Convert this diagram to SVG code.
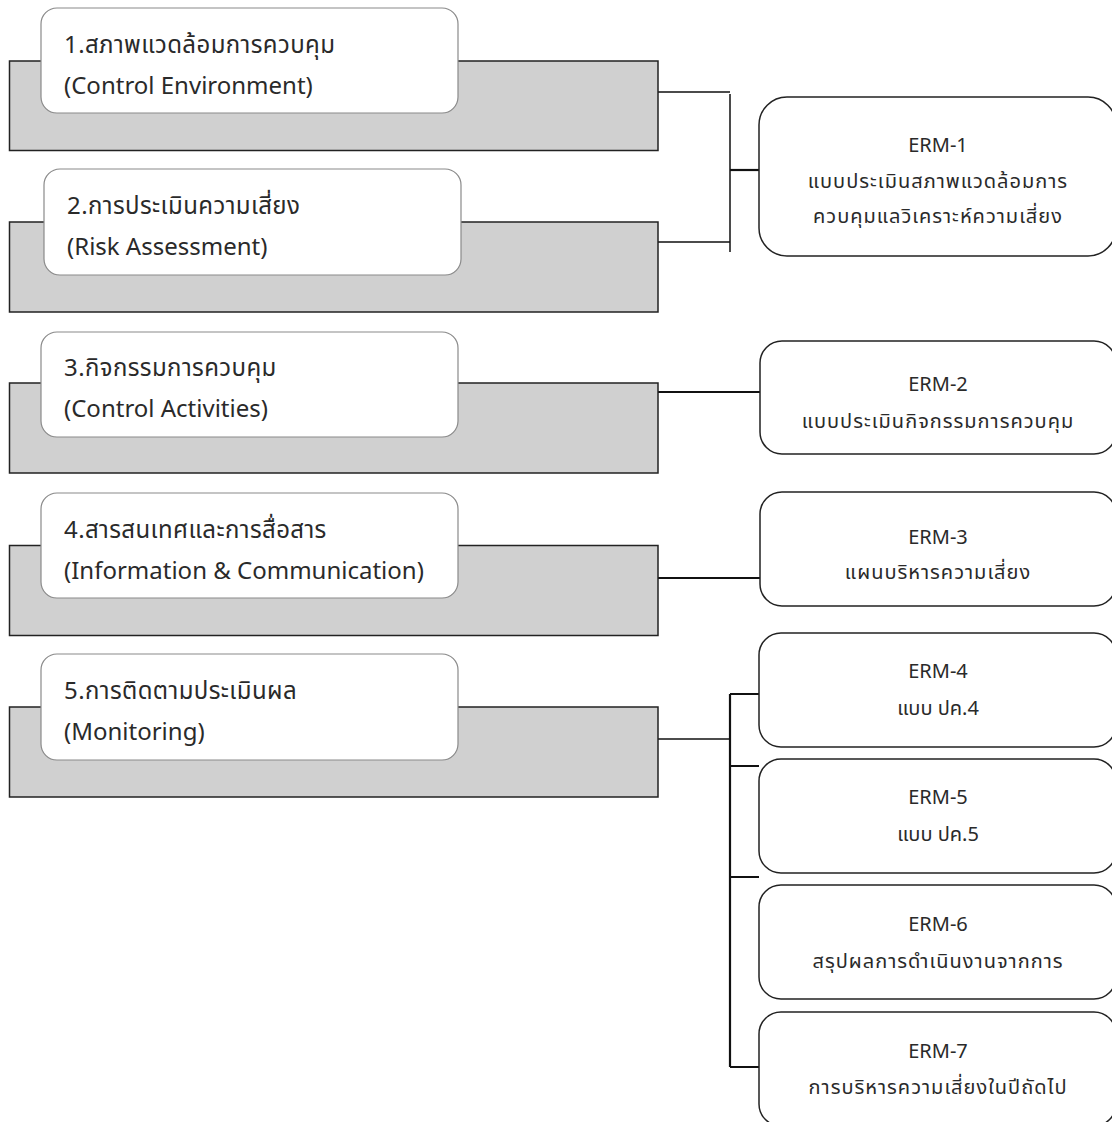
<svg xmlns="http://www.w3.org/2000/svg" width="1112" height="1122" viewBox="0 0 1112 1122">
<style>
.bg{fill:#d0d0d0;stroke:#222;stroke-width:1.5}
.wb{fill:#fff;stroke:#8a8a8a;stroke-width:1.2}
.rb{fill:#fff;stroke:#222;stroke-width:1.5}
.lt{font-family:"Noto Sans Thai","Noto Sans",sans-serif;font-size:24px;fill:#2a2a2a}
.lth{letter-spacing:0.4px}
.rt{font-family:"Noto Sans Thai","Noto Sans",sans-serif;font-size:20px;fill:#2a2a2a;text-anchor:middle}
.th{letter-spacing:1px}
.c{stroke:#111;stroke-width:1.5;fill:none}
.c2{stroke:#111;stroke-width:2.2;fill:none}
</style>
<rect width="1112" height="1122" fill="#fff"/>
<g id="connectors">
<path class="c" d="M658 92H730M658 242H730M730 94V252"/>
<path class="c2" d="M730 170H759"/>
<path class="c2" d="M658 392H760"/>
<path class="c2" d="M658 578H760"/>
<path class="c" d="M658 739H730"/>
<path class="c2" d="M730 694V1067M730 694H759M730 766H759M730 877H759M730 1067H759"/>
</g>
<g id="n1"><rect class="bg" x="9.5" y="61" width="648.5" height="89.5"/><rect class="wb" x="41" y="8" width="417" height="105" rx="16"/><text class="lt lth" x="64" y="53">1.สภาพแวดล้อมการควบคุม</text><text class="lt" x="64" y="94">(Control Environment)</text></g>
<g id="n2"><rect class="bg" x="9.5" y="222" width="648.5" height="90"/><rect class="wb" x="44" y="169" width="417" height="106" rx="16"/><text class="lt lth" x="67" y="214">2.การประเมินความเสี่ยง</text><text class="lt" x="67" y="255">(Risk Assessment)</text></g>
<g id="n3"><rect class="bg" x="9.5" y="383" width="648.5" height="90"/><rect class="wb" x="41" y="332" width="417" height="105" rx="16"/><text class="lt lth" x="64" y="376">3.กิจกรรมการควบคุม</text><text class="lt" x="64" y="417">(Control Activities)</text></g>
<g id="n4"><rect class="bg" x="9.5" y="545.5" width="648.5" height="90"/><rect class="wb" x="41" y="493" width="417" height="105" rx="16"/><text class="lt lth" x="64" y="538">4.สารสนเทศและการสื่อสาร</text><text class="lt" x="64" y="579">(Information &amp; Communication)</text></g>
<g id="n5"><rect class="bg" x="9.5" y="707" width="648.5" height="90"/><rect class="wb" x="41" y="654" width="417" height="106" rx="16"/><text class="lt lth" x="64" y="699">5.การติดตามประเมินผล</text><text class="lt" x="64" y="740">(Monitoring)</text></g>
<g id="erm1"><rect class="rb" x="759" y="97" width="357" height="159" rx="28"/><text class="rt" x="938" y="152">ERM-1</text><text class="rt th" x="938" y="188">แบบประเมินสภาพแวดล้อมการ</text><text class="rt th" x="938" y="223">ควบคุมแลวิเคราะห์ความเสี่ยง</text></g>
<g id="erm2"><rect class="rb" x="760" y="341" width="356" height="113" rx="22"/><text class="rt" x="938" y="391">ERM-2</text><text class="rt th" x="938" y="428">แบบประเมินกิจกรรมการควบคุม</text></g>
<g id="erm3"><rect class="rb" x="760" y="492" width="356" height="114" rx="22"/><text class="rt" x="938" y="544">ERM-3</text><text class="rt th" x="938" y="579">แผนบริหารความเสี่ยง</text></g>
<g id="erm4"><rect class="rb" x="759" y="633" width="357" height="114" rx="22"/><text class="rt" x="938" y="678">ERM-4</text><text class="rt" x="938" y="715">แบบ ปค.4</text></g>
<g id="erm5"><rect class="rb" x="759" y="759" width="357" height="114" rx="22"/><text class="rt" x="938" y="804">ERM-5</text><text class="rt" x="938" y="841">แบบ ปค.5</text></g>
<g id="erm6"><rect class="rb" x="759" y="885" width="357" height="114" rx="22"/><text class="rt" x="938" y="931">ERM-6</text><text class="rt th" x="938" y="968">สรุปผลการดำเนินงานจากการ</text></g>
<g id="erm7"><rect class="rb" x="759" y="1012" width="357" height="114" rx="22"/><text class="rt" x="938" y="1058">ERM-7</text><text class="rt th" x="938" y="1094">การบริหารความเสี่ยงในปีถัดไป</text></g>
</svg>
